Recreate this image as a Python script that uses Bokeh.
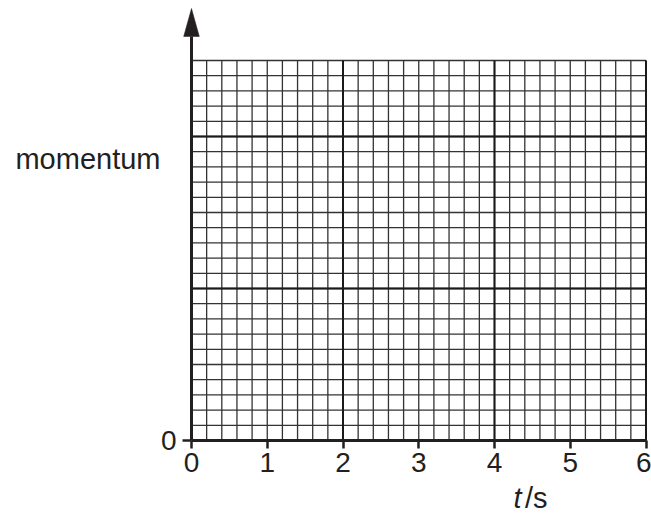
from bokeh.plotting import figure
from bokeh.models import Range1d, FixedTicker, Label
from bokeh.embed import file_html
from bokeh.resources import INLINE

# ---- data ----
x_ticks = [0, 1, 2, 3, 4, 5, 6]
y_ticks = [0]
x_max = 6
y_max = 25
x_major = [2, 4, 6]
y_major = [10, 20]
x_minor_step = 0.2
y_minor_step = 1
y_label = "momentum"
x_label_var = "t"
x_label_unit = "/s"

x_minor = [round(i * x_minor_step, 1) for i in range(1, int(round(x_max / x_minor_step)) + 1)]
y_minor = [i * y_minor_step for i in range(1, int(round(y_max / y_minor_step)) + 1)]

# ---- layout constants (pixels) ----
W, H = 651, 513
PX_X, PX_Y = 75.75, 15.2          # pixels per data unit
ORIG_X, ORIG_Y = 191, 440         # canvas position of the origin
FONT = "Liberation Sans"
INK = "#231f20"

x0 = -ORIG_X / PX_X
x1 = (W - ORIG_X) / PX_X
y0 = -(H - ORIG_Y) / PX_Y
y1 = ORIG_Y / PX_Y


def dx(px):
    return (px - ORIG_X) / PX_X


def dy(py):
    return (ORIG_Y - py) / PX_Y


p = figure(width=W, height=H, x_range=Range1d(x0, x1), y_range=Range1d(y0, y1),
           output_backend="svg", toolbar_location=None,
           min_border_left=0, min_border_right=0, min_border_top=0,
           min_border_bottom=0, min_border=0)
p.outline_line_color = None
p.xgrid.visible = False
p.ygrid.visible = False
p.background_fill_color = "white"
p.border_fill_color = "white"

# minor grid
p.segment(x0=x_minor, y0=[0] * len(x_minor), x1=x_minor, y1=[y_max] * len(x_minor),
          line_color="#333333", line_width=1.3)
p.segment(x0=[0] * len(y_minor), y0=y_minor, x1=[x_max] * len(y_minor), y1=y_minor,
          line_color="#333333", line_width=1.3)
# major grid
p.segment(x0=x_major, y0=[0] * len(x_major), x1=x_major, y1=[y_max] * len(x_major),
          line_color="#1a1a1a", line_width=2)
p.segment(x0=[0] * len(y_major), y0=y_major, x1=[x_max] * len(y_major), y1=y_major,
          line_color="#1a1a1a", line_width=2)

# arrow head on the y axis
head_len_px, head_half_px = 28, 7.8
tip = dy(8)
base = tip - head_len_px / PX_Y
hw = head_half_px / PX_X
p.patch(x=[-hw, 0, hw], y=[base, tip, base], fill_color=INK, line_color=INK, line_width=0.5)

# x axis
xa = p.xaxis[0]
xa.fixed_location = 0
xa.ticker = FixedTicker(ticks=x_ticks, minor_ticks=[])
xa.bounds = (0, x_max)
xa.axis_line_width = 3
xa.axis_line_color = INK
xa.major_tick_line_width = 2.5
xa.major_tick_line_color = INK
xa.major_tick_out = 8
xa.major_tick_in = 0
xa.minor_tick_out = 0
xa.minor_tick_in = 0
xa.major_label_text_font = FONT
xa.major_label_text_font_size = "28px"
xa.major_label_text_color = INK
xa.major_label_standoff = 4

# y axis
ya = p.yaxis[0]
ya.fixed_location = 0
ya.ticker = FixedTicker(ticks=y_ticks, minor_ticks=[])
ya.bounds = (0, base)
ya.axis_line_width = 3
ya.axis_line_color = INK
ya.major_tick_line_width = 2.5
ya.major_tick_line_color = INK
ya.major_tick_out = 9
ya.major_tick_in = 0
ya.minor_tick_out = 0
ya.minor_tick_in = 0
ya.major_label_text_font = FONT
ya.major_label_text_font_size = "28px"
ya.major_label_text_color = INK
ya.major_label_standoff = 6

# axis titles (baseline positions corrected for Bokeh's text box offset)
p.add_layout(Label(x=dx(160), y=dy(158), text=y_label,
                   text_font=FONT, text_font_size="29px", text_color=INK,
                   text_align="right", text_baseline="alphabetic"))
p.add_layout(Label(x=dx(513), y=dy(497), text=x_label_var,
                   text_font=FONT, text_font_size="29px", text_font_style="italic",
                   text_color=INK, text_align="left", text_baseline="alphabetic"))
p.add_layout(Label(x=dx(524.5), y=dy(497), text=x_label_unit,
                   text_font=FONT, text_font_size="29px", text_color=INK,
                   text_align="left", text_baseline="alphabetic"))

open("out.html", "w").write(file_html(p, INLINE))
